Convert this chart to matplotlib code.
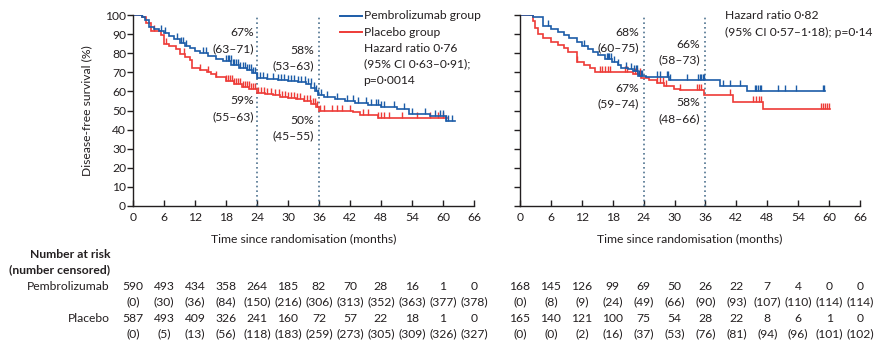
import numpy as np
import matplotlib
matplotlib.use("Agg")
import matplotlib.pyplot as plt
from matplotlib.path import Path
from matplotlib.lines import Line2D

FS = 8.7
plt.rcParams['font.family'] = ['Lato', 'DejaVu Sans']
plt.rcParams['font.size'] = FS

# ---- Kaplan-Meier step data (time in months, survival in %) ----
# Left panel: overall population
L_pem_t = [0, 1.8, 2.4, 3.0, 4.0, 5.0, 6.0, 7.0, 8.0, 9.0, 10.0, 11.0, 12.0, 13.0, 14.5, 16.0,
           17.5, 19.0, 20.5, 22.0, 23.0, 24.0, 26.0, 28.0, 30.0, 32.0, 33.5, 34.5, 35.2, 35.8,
           37.0, 39.0, 41.0, 43.0, 45.5, 48.0, 51.0, 53.5, 57.5, 60.5]
L_pem_s = [100, 99, 97.5, 93.5, 92.5, 91.5, 90.5, 89, 87.5, 85.5, 84, 82.5, 81, 80, 78.5, 77,
           76, 74, 72.5, 71, 69.5, 67, 66.5, 66, 65.5, 65, 64, 62, 60, 58,
           57, 56, 55, 54, 53, 52, 51, 48, 47, 44.5]
L_pem_end = 62.3
L_pem_cens = [1.2, 1.8, 5.5, 6.2, 8.6, 9.2, 9.6, 10.2, 13.5, 14.2, 18.0, 18.3, 18.6, 18.9, 19.3,
              19.6, 20.0, 20.4, 20.8, 21.2, 21.6, 22.0, 22.4, 22.8, 23.2, 23.6, 24.0, 24.6, 25.2,
              26.0, 27.0, 28.0, 28.6, 29.2, 30.0, 30.6, 31.2, 32.0, 32.6, 33.2, 33.8, 34.4, 35.0,
              35.4, 35.8, 36.4, 37.5, 39.5, 41.5, 42.5, 43.5, 45.0, 46.0, 47.0, 47.4, 48.0, 48.5,
              50.5, 52.5, 54.0, 56.5, 58.5, 59.5, 60.0, 60.5, 61.0, 61.8]

L_pbo_t = [0, 1.8, 2.5, 3.5, 5.5, 6.0, 7.0, 8.4, 9.0, 10.0, 11.0, 11.5, 13.0, 14.3, 15.0, 16.0,
           18.0, 19.5, 21.0, 22.5, 24.0, 25.5, 27.0, 28.5, 30.0, 31.5, 33.0, 34.5, 35.5, 36.0,
           38.0, 42.5, 44.0, 47.5]
L_pbo_s = [100, 99, 96, 91.5, 89.5, 85, 84, 82, 79.5, 78, 76.5, 72.5, 71, 70, 69, 67.5,
           65.5, 64, 62.5, 61, 59, 58.5, 58, 57, 56.5, 56, 55, 53.5, 52, 50,
           49.5, 49, 47.5, 46]
L_pbo_end = 60.7
L_pbo_cens = [4.0, 6.3, 9.8, 13.0, 14.5, 16.0, 18.0, 18.4, 18.8, 19.2, 19.6, 20.0, 20.4, 20.8,
              21.2, 21.6, 22.0, 22.4, 22.8, 23.2, 23.6, 24.2, 24.8, 25.4, 26.0, 26.8, 27.5, 28.2,
              28.8, 29.4, 30.0, 30.6, 31.2, 31.8, 32.4, 33.0, 33.6, 34.2, 34.8, 35.2, 35.6, 36.2,
              37.0, 38.5, 39.5, 40.5, 42.0, 44.5, 45.5, 47.5, 48.0, 48.6, 49.5, 52.0, 55.0, 57.5,
              59.0, 60.0]

# Right panel: subgroup
R_pem_t = [0, 2.5, 4.5, 6.0, 7.4, 8.5, 9.5, 11.0, 12.0, 13.2, 14.2, 15.1, 16.5, 17.8, 19.0,
           19.7, 21.0, 22.0, 23.0, 24.5, 29.0, 38.8, 44.0]
R_pem_s = [100, 99, 94.5, 92.5, 91, 89.5, 88, 86, 84, 82, 80.5, 79, 77, 75.5, 74,
           72.5, 71.5, 70.5, 68, 67.3, 66, 63, 60]
R_pem_end = 59.2
R_pem_cens = [1.8, 2.3, 5.5, 12.5, 16.8, 17.0, 17.3, 17.6, 18.2, 19.0, 20.5, 21.5, 22.2, 22.5,
              22.8, 23.1, 23.4, 23.7, 26.5, 27.2, 28.5, 28.8, 29.1, 32.5, 34.6, 34.9, 35.2, 35.5,
              35.8, 39.5, 40.8, 42.7, 45.6, 45.9, 46.2, 46.5, 46.8, 50.0, 51.5, 53.5, 58.8, 59.1]

R_pbo_t = [0, 2.5, 3.0, 3.5, 4.5, 6.0, 7.4, 8.5, 9.3, 11.0, 12.5, 13.5, 14.6, 22.0, 23.5,
           25.0, 26.5, 28.0, 29.8, 31.0, 35.8, 41.4, 47.2]
R_pbo_s = [100, 97, 93, 90, 88, 86, 84.5, 82.5, 80.5, 75.5, 74, 72.5, 70, 69, 67,
           66, 64.5, 63, 61.5, 60.5, 58, 54.5, 51]
R_pbo_end = 60.2
R_pbo_cens = [11.0, 15.5, 16.0, 16.5, 17.0, 17.5, 20.3, 20.8, 22.4, 22.8, 23.2, 26.6, 27.2,
              27.8, 28.4, 31.0, 34.4, 34.8, 35.2, 40.8, 45.3, 45.8, 46.3, 46.8, 58.4, 58.8,
              59.2, 59.6, 60.0]

# ---- Number at risk tables ----
risk_times = [0, 6, 12, 18, 24, 30, 36, 42, 48, 54, 60, 66]
L_pem_risk = [590, 493, 434, 358, 264, 185, 82, 70, 28, 16, 1, 0]
L_pem_cen = [0, 30, 36, 84, 150, 216, 306, 313, 352, 363, 377, 378]
L_pbo_risk = [587, 493, 409, 326, 241, 160, 72, 57, 22, 18, 1, 0]
L_pbo_cen = [0, 5, 13, 56, 118, 183, 259, 273, 305, 309, 326, 327]
R_pem_risk = [168, 145, 126, 99, 69, 50, 26, 22, 7, 4, 0, 0]
R_pem_cen = [0, 8, 9, 24, 49, 66, 90, 93, 107, 110, 114, 114]
R_pbo_risk = [165, 140, 121, 100, 75, 54, 28, 22, 8, 6, 1, 0]
R_pbo_cen = [0, 0, 2, 16, 37, 53, 76, 81, 94, 96, 101, 102]

BLUE = "#1c5ca8"
RED = "#ee3b37"
TXT = "#231f20"
GUIDE = "#4f7390"

W, H = 885, 346
fig = plt.figure(figsize=(W / 100, H / 100), dpi=100)


def fx(px):
    return px / W


def fy(py):
    return 1 - py / H


tick_marker = Path([(0, 0), (0, 1)], [Path.MOVETO, Path.LINETO])


def km(ax, t, s, tend, cens, color):
    t = np.asarray(t, float)
    s = np.asarray(s, float)
    ax.step(np.append(t, tend), np.append(s, s[-1]), where='post', color=color, lw=1.2,
            solid_joinstyle='miter')
    c = np.asarray(cens, float)
    idx = np.searchsorted(t, c, side='right') - 1
    ax.plot(c, s[idx], linestyle='none', marker=tick_marker, markersize=8,
            markeredgewidth=1.0, color=color)


def setup(ax, ylabels=True):
    ax.set_xlim(0, 66)
    ax.set_ylim(0, 100)
    ax.set_xticks(range(0, 67, 6))
    ax.set_yticks(range(0, 101, 10))
    for side in ('top', 'right'):
        ax.spines[side].set_visible(False)
    for side in ('left', 'bottom'):
        ax.spines[side].set_linewidth(1.0)
        ax.spines[side].set_color(TXT)
    ax.tick_params(axis='x', direction='in', length=4, width=1, colors=TXT, pad=4,
                   labelsize=FS)
    ax.tick_params(axis='y', direction='out', length=4, width=1, colors=TXT, pad=1,
                   labelsize=FS, labelleft=ylabels)
    ax.set_xlabel("Time since randomisation (months)", color=TXT, fontsize=FS, labelpad=8)
    for x in (24, 36):
        ax.plot([x, x], [0, 100], color=GUIDE, lw=1.2, linestyle=(0, (1, 1.8)))
    ax.patch.set_alpha(0)


axL = fig.add_axes([fx(133), fy(206), fx(474) - fx(133), fy(15) - fy(206)])
axR = fig.add_axes([fx(520), fy(206), fx(860) - fx(520), fy(15) - fy(206)])
setup(axL, True)
setup(axR, False)
axL.set_ylabel("Disease-free survival (%)", color=TXT, fontsize=FS)
axL.yaxis.set_label_coords(-0.12, 0.5)

km(axL, L_pbo_t, L_pbo_s, L_pbo_end, L_pbo_cens, RED)
km(axL, L_pem_t, L_pem_s, L_pem_end, L_pem_cens, BLUE)
km(axR, R_pbo_t, R_pbo_s, R_pbo_end, R_pbo_cens, RED)
km(axR, R_pem_t, R_pem_s, R_pem_end, R_pem_cens, BLUE)


def ftext(px, py, s, **kw):
    kw.setdefault('color', TXT)
    kw.setdefault('fontsize', FS)
    kw.setdefault('va', 'center')
    fig.text(fx(px), fy(py), s, **kw)


# Landmark estimates
for x, y, s in [(254, 33, "67%"), (254, 49, "(63–71)"), (314, 50, "58%"), (314, 66, "(53–63)"),
                (254, 101, "59%"), (254, 117, "(55–63)"), (314, 120, "50%"), (314, 136, "(45–55)"),
                (639, 32, "68%"), (639, 48, "(60–75)"), (700, 44, "66%"), (700, 60, "(58–73)"),
                (639, 88, "67%"), (639, 104, "(59–74)"), (700, 103, "58%"), (700, 119, "(48–66)")]:
    ftext(x, y, s, ha='right')

# Legend and hazard ratios
fig.add_artist(Line2D([fx(340), fx(362)], [fy(15.5), fy(15.5)], color=BLUE, lw=1.4))
fig.add_artist(Line2D([fx(340), fx(362)], [fy(32), fy(32)], color=RED, lw=1.4))
ftext(363.5, 15.5, "Pembrolizumab group")
ftext(363.5, 32, "Placebo group")
ftext(363.5, 48, "Hazard ratio 0·76")
ftext(363.5, 64, "(95% CI 0·63–0·91);")
ftext(363.5, 80, "p=0·0014")
ftext(725, 15.5, "Hazard ratio 0·82")
ftext(725, 32, "(95% CI 0·57–1·18); p=0·14")

# Number at risk
ftext(110, 254, "Number at risk", ha='right', fontweight='bold')
ftext(110, 270, "(number censored)", ha='right', fontweight='bold')
ftext(110, 286, "Pembrolizumab", ha='right')
ftext(110, 318, "Placebo", ha='right')


def risk_rows(ax, rows):
    tr = matplotlib.transforms.blended_transform_factory(ax.transData, fig.transFigure)
    for py, vals, paren in rows:
        for t, v in zip(risk_times, vals):
            s = f"({v})" if paren else f"{v}"
            ax.text(t, fy(py), s, transform=tr, ha='center', va='center', fontsize=FS,
                    color=TXT, clip_on=False)


risk_rows(axL, [(286, L_pem_risk, False), (302, L_pem_cen, True),
                (318, L_pbo_risk, False), (334, L_pbo_cen, True)])
risk_rows(axR, [(286, R_pem_risk, False), (302, R_pem_cen, True),
                (318, R_pbo_risk, False), (334, R_pbo_cen, True)])

fig.savefig("out.png", dpi=100)
